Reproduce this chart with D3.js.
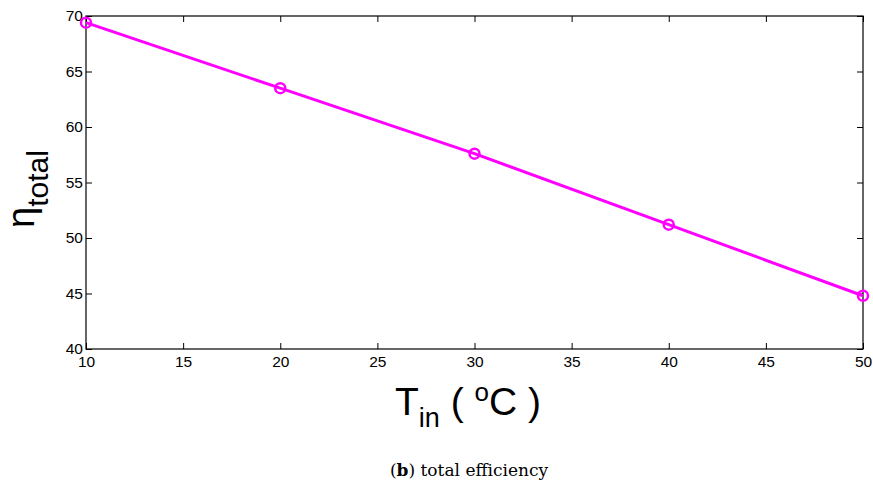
<!DOCTYPE html>
<html>
<head>
<meta charset="utf-8">
<script src="https://cdn.jsdelivr.net/npm/d3@7"></script>
<style>
body { margin: 0; background: #fff; }
svg text { font-family: "Liberation Sans", Arial, sans-serif; }
</style>
</head>
<body>
<div id="chart"></div>
<script>
// data
var tin = [10, 20, 30, 40, 50];
var etaTotal = [69.4, 63.5, 57.6, 51.2, 44.8];
var xTicks = [10, 15, 20, 25, 30, 35, 40, 45, 50];
var yTicks = [40, 45, 50, 55, 60, 65, 70];

var W = 873, H = 490;
var margin = {top: 16, right: 10, bottom: 141, left: 86};
var width = W - margin.left - margin.right;
var height = H - margin.top - margin.bottom;

var svg = d3.select("#chart").append("svg")
    .attr("width", W).attr("height", H);
var g = svg.append("g")
    .attr("transform", "translate(" + margin.left + "," + margin.top + ")");

var x = d3.scaleLinear().domain([10, 50]).range([0, width]);
var y = d3.scaleLinear().domain([40, 70]).range([height, 0]);

// axes, ticks pointing inward like matlab
function styleAxis(sel, noText) {
    sel.select(".domain").remove();
    sel.selectAll(".tick line").attr("stroke", "#000").attr("stroke-width", 1);
    sel.selectAll("text").style("font-size", "15.5px").attr("fill", "#000");
    if (noText) sel.selectAll("text").remove();
}
g.append("g").attr("transform", "translate(0," + height + ")")
    .call(d3.axisBottom(x).tickValues(xTicks).tickSizeInner(-6).tickSizeOuter(0).tickPadding(7))
    .call(styleAxis);
g.append("g")
    .call(d3.axisTop(x).tickValues(xTicks).tickSizeInner(-6).tickSizeOuter(0))
    .call(function(s){ styleAxis(s, true); });
g.append("g")
    .call(d3.axisLeft(y).tickValues(yTicks).tickSizeInner(-6).tickSizeOuter(0).tickPadding(3))
    .call(styleAxis);
g.append("g").attr("transform", "translate(" + width + ",0)")
    .call(d3.axisRight(y).tickValues(yTicks).tickSizeInner(-6).tickSizeOuter(0))
    .call(function(s){ styleAxis(s, true); });

g.append("rect")
    .attr("width", width).attr("height", height)
    .attr("fill", "none").attr("stroke", "#000").attr("stroke-width", 1.2);

var pts = tin.map(function(t, i){ return [t, etaTotal[i]]; });
var line = d3.line().x(function(d){ return x(d[0]); }).y(function(d){ return y(d[1]); });

g.append("path").datum(pts)
    .attr("d", line)
    .attr("fill", "none").attr("stroke", "#ff00ff").attr("stroke-width", 3);

g.selectAll(".pt").data(pts).enter().append("circle")
    .attr("cx", function(d){ return x(d[0]); })
    .attr("cy", function(d){ return y(d[1]); })
    .attr("r", 5)
    .attr("fill", "none").attr("stroke", "#ff00ff").attr("stroke-width", 2.5);

// x label
var xl = svg.append("text")
    .attr("x", 395).attr("y", 415)
    .style("font-size", "39px").attr("fill", "#000");
xl.append("tspan").text("T");
xl.append("tspan").attr("dy", 12).style("font-size", "27px").text("in");
xl.append("tspan").attr("dy", -12).text(" ( ");
xl.append("tspan").attr("dy", -14).style("font-size", "26px").text("o");
xl.append("tspan").attr("dy", 14).text("C )");

// y label
var yl = svg.append("text")
    .attr("transform", "translate(34,228) rotate(-90)")
    .style("font-size", "38px").attr("fill", "#000");
yl.append("tspan").text("η");
yl.append("tspan").attr("dy", 14).style("font-size", "30px").text("total");

// caption
var cap = svg.append("text")
    .attr("x", 469).attr("y", 476)
    .attr("text-anchor", "middle")
    .style("font-family", "'DejaVu Serif', serif")
    .style("font-size", "17px").attr("fill", "#000");
cap.append("tspan").text("(");
cap.append("tspan").style("font-weight", "bold").text("b");
cap.append("tspan").text(") total efficiency");
</script>
</body>
</html>
